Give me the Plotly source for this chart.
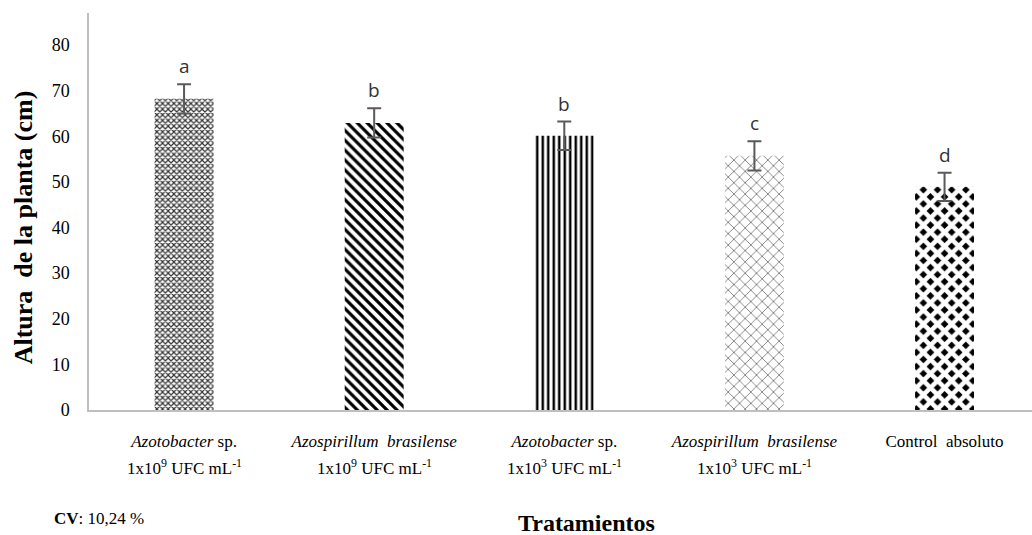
import plotly.graph_objects as go

label_line1 = [
    "<i>Azotobacter</i> sp.",
    "<i>Azospirillum  brasilense</i>",
    "<i>Azotobacter</i> sp.",
    "<i>Azospirillum  brasilense</i>",
    "Control  absoluto",
]
label_line2 = [
    "1x10<sup>9</sup> UFC mL<sup>-1</sup>",
    "1x10<sup>9</sup> UFC mL<sup>-1</sup>",
    "1x10<sup>3</sup> UFC mL<sup>-1</sup>",
    "1x10<sup>3</sup> UFC mL<sup>-1</sup>",
    "",
]
heights = [68.2, 62.9, 60.1, 55.7, 48.9]
errors = [3.2, 3.2, 3.1, 3.2, 3.1]
letters = ["a", "b", "b", "c", "d"]
y_ticks = [0, 10, 20, 30, 40, 50, 60, 70, 80]

xpos = list(range(len(label_line1)))
serif = "Liberation Serif"

fig = go.Figure()
fig.add_trace(go.Bar(
    x=xpos, y=heights, width=0.31,
    error_y=dict(type="data", array=errors, visible=True, color="#5a5a5a", thickness=2, width=7),
    marker=dict(
        color="white",
        line=dict(width=0),
        pattern=dict(
            shape=["x", "\\", "|", "x", "x"],
            fgcolor=["#333333", "black", "black", "#444444", "white"],
            bgcolor=["white", "white", "white", "white", "black"],
            size=[4, 7, 5.5, 8, 10],
            solidity=[0.5, 0.45, 0.45, 0.15, 0.7],
            fillmode="replace",
        ),
    ),
    showlegend=False,
    hoverinfo="y",
))

for x, h, e, l in zip(xpos, heights, errors, letters):
    fig.add_annotation(x=x, y=h + e, text=l, showarrow=False, yanchor="bottom", yshift=3,
                       font=dict(family="Open Sans", size=19, color="#333333"))

for x, t in zip(xpos, label_line2):
    if t:
        fig.add_annotation(x=x, xref="x", yref="paper", y=-0.143, text=t, showarrow=False,
                           yanchor="middle", font=dict(family=serif, size=17, color="black"))

fig.add_annotation(xref="paper", yref="paper", x=-0.0395, y=-0.273, xanchor="left", yanchor="middle",
                   text="<b>CV</b>: 10,24 %", showarrow=False,
                   font=dict(family=serif, size=17, color="black"))

fig.add_annotation(xref="paper", yref="paper", x=0.528, y=-0.285, xanchor="center", yanchor="middle",
                   text="<b>Tratamientos</b>", showarrow=False,
                   font=dict(family=serif, size=24, color="black"))

fig.add_annotation(xref="paper", yref="paper", x=-0.07, y=0.46, xanchor="center", yanchor="middle",
                   text="<b>Altura  de la planta (cm)</b>", textangle=-90, showarrow=False,
                   font=dict(family=serif, size=26, color="black"))

fig.update_layout(
    width=1032, height=535,
    margin=dict(l=89, r=0, t=13, b=125),
    plot_bgcolor="white", paper_bgcolor="white",
    xaxis=dict(
        tickmode="array", tickvals=xpos, ticktext=label_line1,
        range=[-0.5, 4.46], automargin=False,
        showline=True, linecolor="#bfbfbf", linewidth=2,
        ticks="", showgrid=False, zeroline=False,
        tickfont=dict(family=serif, size=17, color="black"),
        ticklabelstandoff=15,
    ),
    yaxis=dict(
        range=[0, 87], tickvals=y_ticks, automargin=False,
        showline=True, linecolor="#bfbfbf", linewidth=1.5,
        ticks="", showgrid=False, zeroline=False,
        tickfont=dict(family=serif, size=18, color="black"),
        ticklabelstandoff=14,
    ),
)

fig.write_html("out.html", config={"displayModeBar": False},
               post_script="document.body.style.margin='0px';")
